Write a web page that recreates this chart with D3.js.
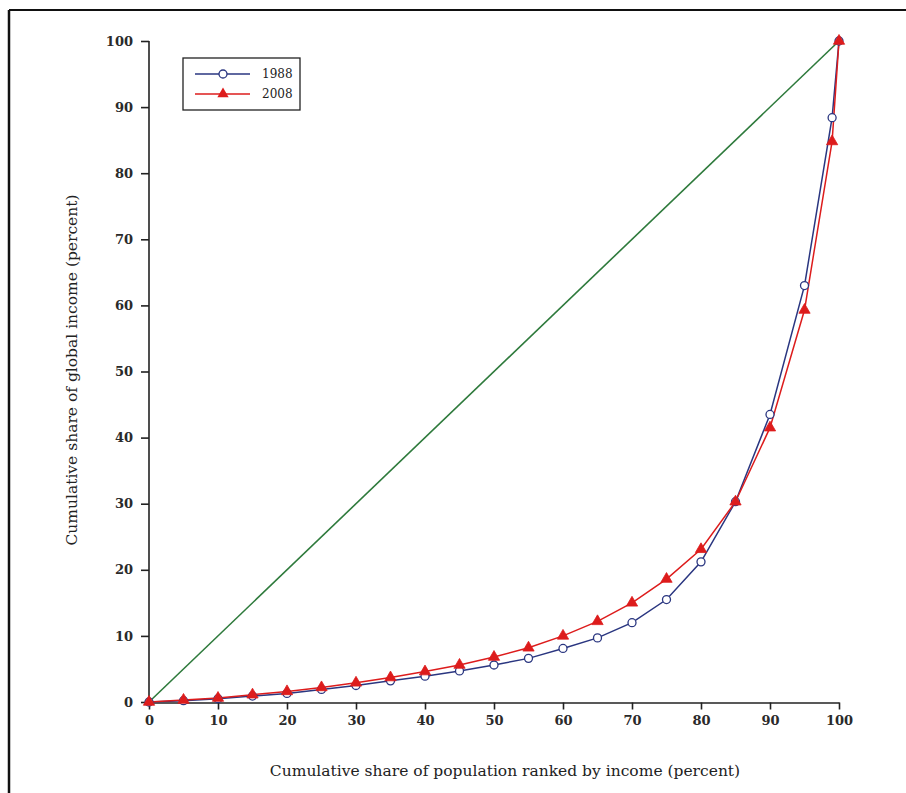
<!DOCTYPE html>
<html><head><meta charset="utf-8">
<script src="https://cdn.jsdelivr.net/npm/d3@7"></script>
<style>body{margin:0;background:#fff}svg{display:block}</style>
</head><body>
<script>
const xValues = [0,5,10,15,20,25,30,35,40,45,50,55,60,65,70,75,80,85,90,95,99,100];
const share1988 = [0,0.2,0.5,0.9,1.3,1.9,2.5,3.2,3.9,4.7,5.6,6.6,8.1,9.7,12.0,15.5,21.2,30.3,43.5,63.0,88.4,100];
const share2008 = [0,0.3,0.6,1.1,1.6,2.2,2.9,3.7,4.6,5.6,6.8,8.2,10.0,12.2,15.0,18.6,23.1,30.3,41.5,59.3,84.8,100];
const equality = [[0,0],[100,100]];
const xTicks = [0,10,20,30,40,50,60,70,80,90,100];
const yTicks = [0,10,20,30,40,50,60,70,80,90,100];
const seriesNames = ["1988","2008"];

const W = 906, H = 793;
const svg = d3.select("body").append("svg").attr("width", W).attr("height", H);
const font = "'DejaVu Serif', 'Liberation Serif', serif";

// frame
svg.append("line").attr("x1",9).attr("x2",9).attr("y1",10).attr("y2",H).attr("stroke","#111").attr("stroke-width",2.5);
svg.append("line").attr("x1",9).attr("x2",W).attr("y1",10).attr("y2",10).attr("stroke","#111").attr("stroke-width",2);

const x = d3.scaleLinear().domain([0,100]).range([149,839]);
const y = d3.scaleLinear().domain([0,100]).range([702,41]);

const xAxis = svg.append("g").attr("transform","translate(0,702.5)")
  .call(d3.axisBottom(x).tickValues(xTicks).tickSize(7).tickPadding(6).tickSizeOuter(0));
const yAxis = svg.append("g").attr("transform","translate(149,0)")
  .call(d3.axisLeft(y).tickValues(yTicks).tickSize(8).tickPadding(8).tickSizeOuter(0));
[xAxis,yAxis].forEach(a=>{
  a.select(".domain").attr("stroke","#222").attr("stroke-width",1.6);
  a.selectAll(".tick line").attr("stroke","#222").attr("stroke-width",1.6);
  a.selectAll("text").attr("font-family",font).attr("font-size",13).attr("font-weight","bold").attr("fill","#2a2a2a");
});
yAxis.select(".domain").attr("d","M0,41V703");

// equality line
svg.append("path").datum(equality)
  .attr("d", d3.line().x(d=>x(d[0])).y(d=>y(d[1])))
  .attr("fill","none").attr("stroke","#2e7a3c").attr("stroke-width",1.6);

const blue = "#2a3680", red = "#dd1c1c";
const line = d3.line().x(d=>x(d[0])).y(d=>y(d[1]));
const d1988 = xValues.map((v,i)=>[v,share1988[i]]);
const d2008 = xValues.map((v,i)=>[v,share2008[i]]);

svg.append("path").datum(d1988).attr("d",line).attr("fill","none").attr("stroke",blue).attr("stroke-width",1.5);
svg.append("path").datum(d2008).attr("d",line).attr("fill","none").attr("stroke",red).attr("stroke-width",1.5);

svg.append("g").selectAll("circle").data(d1988).join("circle")
  .attr("cx",d=>x(d[0])).attr("cy",d=>y(d[1])).attr("r",4)
  .attr("fill","#fff").attr("stroke",blue).attr("stroke-width",1.3);
const tri = d3.symbol().type(d3.symbolTriangle).size(55);
svg.append("g").selectAll("path").data(d2008).join("path")
  .attr("transform",d=>`translate(${x(d[0])},${y(d[1])})`).attr("d",tri)
  .attr("fill",red).attr("stroke",red).attr("stroke-width",0.8);

// legend
const lg = svg.append("g");
lg.append("rect").attr("x",183).attr("y",58).attr("width",117).attr("height",52)
  .attr("fill","#fff").attr("stroke","#222").attr("stroke-width",1.3);
[[blue,74,"c"],[red,94,"t"]].forEach((s,i)=>{
  lg.append("line").attr("x1",195).attr("x2",250).attr("y1",s[1]).attr("y2",s[1]).attr("stroke",s[0]).attr("stroke-width",1.5);
  if (s[2]==="c") lg.append("circle").attr("cx",223).attr("cy",s[1]).attr("r",4).attr("fill","#fff").attr("stroke",s[0]).attr("stroke-width",1.3);
  else lg.append("path").attr("transform",`translate(223,${s[1]})`).attr("d",tri).attr("fill",s[0]);
  lg.append("text").attr("x",262).attr("y",s[1]+4).text(seriesNames[i])
    .attr("font-family",font).attr("font-size",12).attr("fill","#222");
});

// axis titles
svg.append("text").attr("x",505).attr("y",776).attr("text-anchor","middle")
  .attr("font-family",font).attr("font-size",15.5).attr("fill","#222")
  .text("Cumulative share of population ranked by income (percent)");
svg.append("text").attr("transform","translate(77,370) rotate(-90)").attr("text-anchor","middle")
  .attr("font-family",font).attr("font-size",15.5).attr("fill","#222")
  .text("Cumulative share of global income (percent)");
</script>
</body></html>
